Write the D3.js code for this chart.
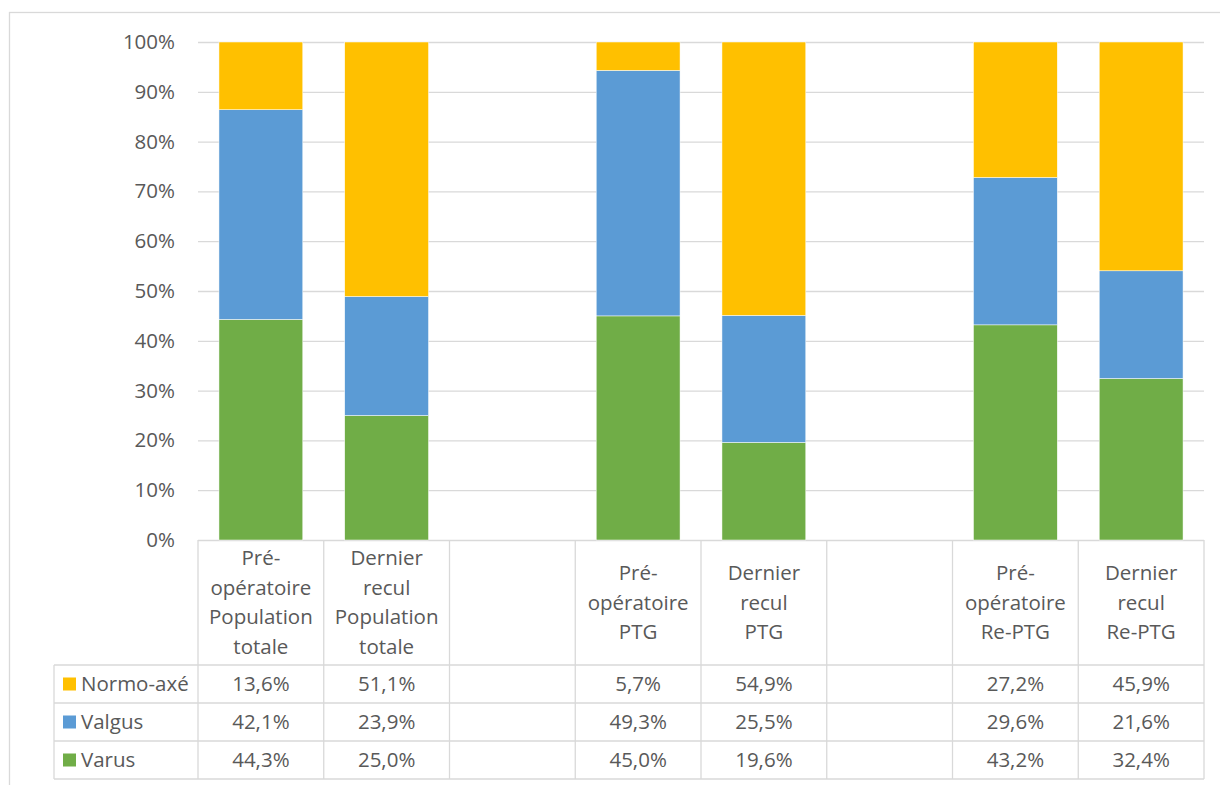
<!DOCTYPE html>
<html>
<head>
<meta charset="utf-8">
<script src="https://cdn.jsdelivr.net/npm/d3@7"></script>
<style>
  body { margin: 0; background: #fff; }
  text { font-family: "Open Sans", sans-serif; fill: #595959; }
</style>
</head>
<body>
<div id="chart"></div>
<script>
// categories (empty strings are the gaps between groups)
var categories = [
  "Pré-\nopératoire\nPopulation\ntotale",
  "Dernier\nrecul\nPopulation\ntotale",
  "",
  "Pré-\nopératoire\nPTG",
  "Dernier\nrecul\nPTG",
  " ",
  "Pré-\nopératoire\nRe-PTG",
  "Dernier\nrecul\nRe-PTG"
];
var seriesNames = ["Varus", "Valgus", "Normo-axé"];
var seriesColors = ["#70AD47", "#5B9BD5", "#FFC000"];
// values in %, null for the gap columns
var varus  = [44.3, 25.0, null, 45.0, 19.6, null, 43.2, 32.4];
var valgus = [42.1, 23.9, null, 49.3, 25.5, null, 29.6, 21.6];
var normo  = [13.6, 51.1, null, 5.7, 54.9, null, 27.2, 45.9];
var yTicks = [0, 0.1, 0.2, 0.3, 0.4, 0.5, 0.6, 0.7, 0.8, 0.9, 1];

var fontSize = "20.5px";
var svg = d3.select("#chart").append("svg").attr("width", 1220).attr("height", 785);

// outer chart border
svg.append("rect").attr("x", 9.5).attr("y", 12.5).attr("width", 1400).attr("height", 900)
  .attr("fill", "none").attr("stroke", "#d9d9d9").attr("stroke-width", 1.3);

var x = d3.scaleBand().domain(categories).range([198, 1204]).paddingInner(1 / 3).paddingOuter(1 / 6);
var y = d3.scaleLinear().domain([0, 1]).range([540, 42]);

// gridlines + tick labels
var yAxis = d3.axisLeft(y).tickValues(yTicks).tickFormat(d3.format(".0%")).tickSizeInner(-1006).tickSizeOuter(0).tickPadding(23);
var gy = svg.append("g").attr("transform", "translate(198,0)").call(yAxis);
gy.select(".domain").remove();
gy.selectAll("line").attr("stroke", "#d9d9d9").attr("stroke-width", 1.3);
gy.selectAll("text").style("font-size", fontSize).attr("fill", "#595959")
  .style("font-family", "'Open Sans', sans-serif");

// stacked 100% bars
var rows = categories.map(function (c, i) {
  return { cat: c, "Varus": varus[i], "Valgus": valgus[i], "Normo-axé": normo[i] };
}).filter(function (d) { return d["Varus"] != null; });

var stack = d3.stack().keys(seriesNames).offset(d3.stackOffsetExpand);
var layers = stack(rows);

svg.append("g").selectAll("g").data(layers).join("g")
  .attr("fill", function (d, i) { return seriesColors[i]; })
  .selectAll("rect").data(function (d) { return d; }).join("rect")
  .attr("x", function (d) { return x(d.data.cat); })
  .attr("width", x.bandwidth())
  .attr("y", function (d) { return y(d[1]); })
  .attr("height", function (d) { return y(d[0]) - y(d[1]); })
  .attr("stroke", "#ffffff").attr("stroke-width", 0.5);

// data table
var table = svg.append("g");
var lineColor = "#d9d9d9";
var step = x.step();
var gapHalf = (step - x.bandwidth()) / 2;
var colEdges = categories.map(function (c) { return x(c) - gapHalf; });
colEdges.push(colEdges[colEdges.length - 1] + step);

var headTop = 540, headBottom = 665, rowH = 38;
var tableBottom = headBottom + rowH * 3;

colEdges.forEach(function (cx) {
  table.append("line").attr("x1", cx).attr("x2", cx).attr("y1", headTop).attr("y2", tableBottom)
    .attr("stroke", lineColor).attr("stroke-width", 1.3);
});
for (var r = 0; r <= 3; r++) {
  table.append("line").attr("x1", 54).attr("x2", colEdges[colEdges.length - 1])
    .attr("y1", headBottom + r * rowH).attr("y2", headBottom + r * rowH)
    .attr("stroke", lineColor).attr("stroke-width", 1.3);
}
table.append("line").attr("x1", 54).attr("x2", 54).attr("y1", headBottom).attr("y2", tableBottom)
  .attr("stroke", lineColor).attr("stroke-width", 1.3);

// header labels
var lineH = 29.5;
categories.forEach(function (c) {
  if (!c.trim()) return;
  var lines = c.split("\n");
  var cx = x(c) + x.bandwidth() / 2;
  var cy = (headTop + headBottom) / 2 - (lines.length - 1) * lineH / 2;
  var t = table.append("text").attr("text-anchor", "middle").style("font-size", fontSize);
  lines.forEach(function (l, i) {
    t.append("tspan").attr("x", cx).attr("y", cy + i * lineH).attr("dy", "0.35em").text(l);
  });
});

// value rows, top to bottom: Normo-axé, Valgus, Varus
var locale = d3.formatLocale({ decimal: ",", thousands: " ", grouping: [3], currency: ["", "€"] });
var fmt = locale.format(".1f");
var tableRows = [
  { name: "Normo-axé", color: seriesColors[2], values: normo },
  { name: "Valgus", color: seriesColors[1], values: valgus },
  { name: "Varus", color: seriesColors[0], values: varus }
];
tableRows.forEach(function (row, r) {
  var cy = headBottom + r * rowH + rowH / 2;
  table.append("rect").attr("x", 63).attr("y", cy - 6.5).attr("width", 13).attr("height", 13).attr("fill", row.color);
  table.append("text").attr("x", 81).attr("y", cy).attr("dy", "0.35em").style("font-size", fontSize).text(row.name);
  row.values.forEach(function (v, i) {
    if (v == null) return;
    table.append("text").attr("x", x(categories[i]) + x.bandwidth() / 2).attr("y", cy).attr("dy", "0.35em")
      .attr("text-anchor", "middle").style("font-size", fontSize).text(fmt(v) + "%");
  });
});
</script>
</body>
</html>
